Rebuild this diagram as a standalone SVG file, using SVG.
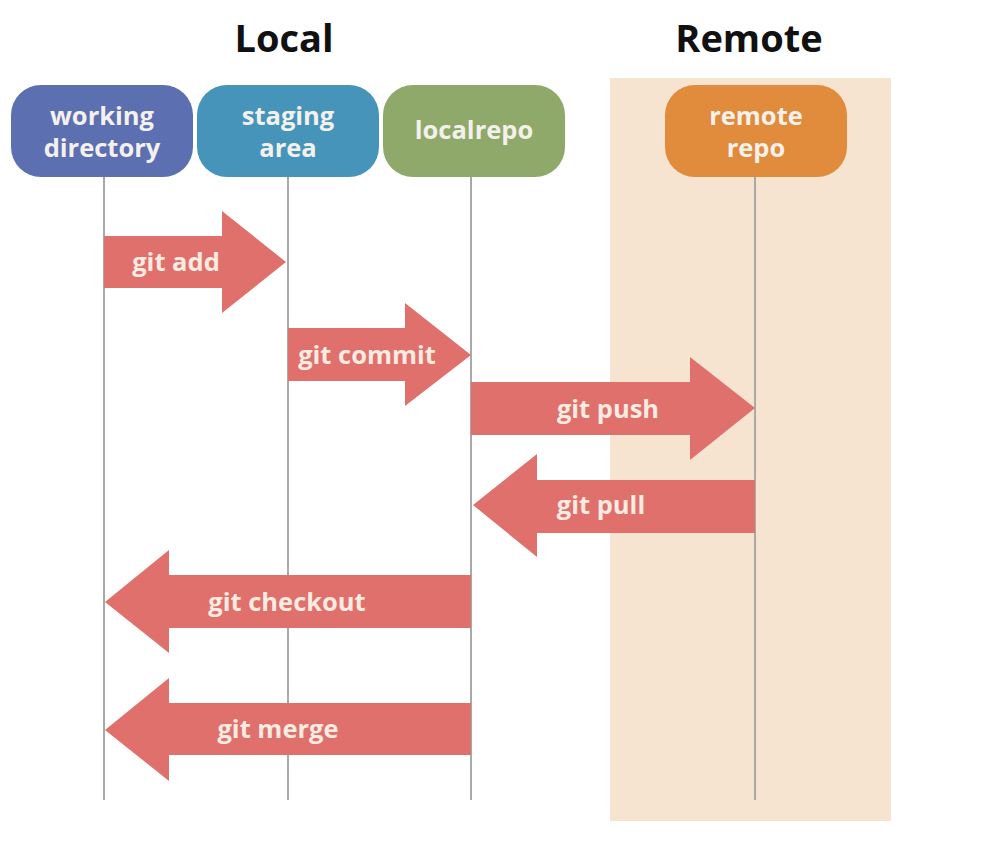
<svg xmlns="http://www.w3.org/2000/svg" width="992" height="864" viewBox="0 0 992 864">
<style>
.title{font-family:"Open Sans","Liberation Sans",sans-serif;font-weight:700;font-size:38px;fill:#111;text-anchor:middle}
.ntxt{font-family:"Open Sans","Liberation Sans",sans-serif;font-weight:700;font-size:25.5px;fill:#f4f1ec;text-anchor:middle}
.atxt{font-family:"Open Sans","Liberation Sans",sans-serif;font-weight:700;font-size:25.5px;fill:#f8ebe2;text-anchor:middle}
.life{stroke:#a9a9a9;stroke-width:2;fill:none}
.arrow{fill:#e0706b}
</style>
<rect width="992" height="864" fill="#ffffff"/>
<rect x="610" y="78" width="281" height="743" fill="#f6e4d0"/>
<text class="title" x="284" y="52">Local</text>
<text class="title" x="749" y="52">Remote</text>
<g id="lifelines">
<line class="life" x1="104" y1="177" x2="104" y2="800"/>
<line class="life" x1="288" y1="177" x2="288" y2="800"/>
<line class="life" x1="471" y1="177" x2="471" y2="800"/>
<line class="life" x1="755" y1="177" x2="755" y2="800"/>
</g>
<g id="node-working">
<rect x="11" y="85" width="182" height="92" rx="30" fill="#5b6fb1"/>
<text class="ntxt" x="102" y="125">working</text>
<text class="ntxt" x="102" y="157">directory</text>
</g>
<g id="node-staging">
<rect x="197" y="85" width="182" height="92" rx="30" fill="#4794bb"/>
<text class="ntxt" x="288" y="125">staging</text>
<text class="ntxt" x="288" y="157">area</text>
</g>
<g id="node-localrepo">
<rect x="383" y="85" width="182" height="92" rx="30" fill="#8fa96b"/>
<text class="ntxt" x="474" y="139">localrepo</text>
</g>
<g id="node-remote">
<rect x="665" y="85" width="182" height="92" rx="30" fill="#e08c3c"/>
<text class="ntxt" x="756" y="125">remote</text>
<text class="ntxt" x="756" y="157">repo</text>
</g>
<g id="connectors">
<g id="git-add">
<polygon class="arrow" points="104,236 222,236 222,211 286,262 222,313 222,288 104,288"/>
<text class="atxt" x="176" y="271">git add</text>
</g>
<g id="git-commit">
<polygon class="arrow" points="288,328 405,328 405,303 471,355 405,406 405,381 288,381"/>
<text class="atxt" x="367" y="364">git commit</text>
</g>
<g id="git-push">
<polygon class="arrow" points="471,382 690,382 690,357 755,408 690,460 690,435 471,435"/>
<text class="atxt" x="608" y="418">git push</text>
</g>
<g id="git-pull">
<polygon class="arrow" points="755,480 537,480 537,454 473,505 537,557 537,533 755,533"/>
<text class="atxt" x="601" y="514">git pull</text>
</g>
<g id="git-checkout">
<polygon class="arrow" points="471,575 169,575 169,550 105,602 169,653 169,628 471,628"/>
<text class="atxt" x="287" y="611">git checkout</text>
</g>
<g id="git-merge">
<polygon class="arrow" points="471,703 169,703 169,678 105,730 169,781 169,755 471,755"/>
<text class="atxt" x="278" y="738">git merge</text>
</g>
</g>
</svg>
